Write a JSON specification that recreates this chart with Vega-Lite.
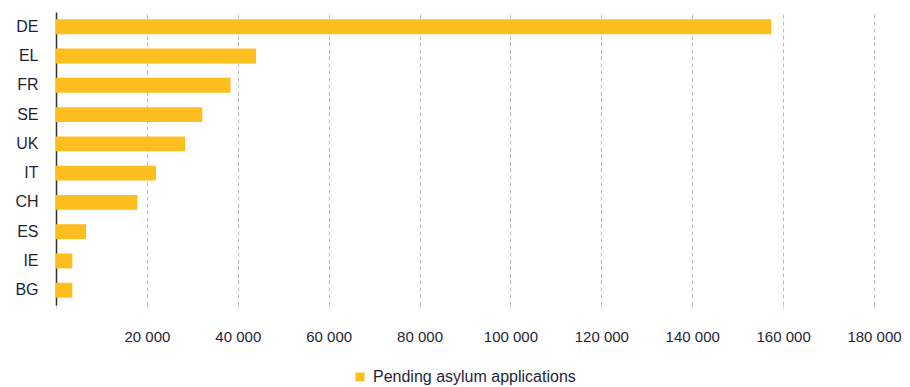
{
  "$schema": "https://vega.github.io/schema/vega-lite/v6.json",
  "autosize": {"type": "none"},
  "padding": {"left": 56, "top": 12, "right": 36, "bottom": 82},
  "width": 818,
  "height": 293,
  "background": "white",
  "config": {"view": {"stroke": null}, "font": "Liberation Sans"},
  "data": {"values": [
    {"country": "DE", "value": 157400, "series": "Pending asylum applications"},
    {"country": "EL", "value": 44000, "series": "Pending asylum applications"},
    {"country": "FR", "value": 38400, "series": "Pending asylum applications"},
    {"country": "SE", "value": 32200, "series": "Pending asylum applications"},
    {"country": "UK", "value": 28400, "series": "Pending asylum applications"},
    {"country": "IT", "value": 22000, "series": "Pending asylum applications"},
    {"country": "CH", "value": 17900, "series": "Pending asylum applications"},
    {"country": "ES", "value": 6600, "series": "Pending asylum applications"},
    {"country": "IE", "value": 3600, "series": "Pending asylum applications"},
    {"country": "BG", "value": 3600, "series": "Pending asylum applications"}
  ]},
  "mark": {"type": "bar"},
  "encoding": {
    "y": {
      "field": "country", "type": "nominal", "sort": null,
      "scale": {"paddingInner": 0.49, "paddingOuter": 0.25},
      "axis": {"title": null, "ticks": false, "domainColor": "#333333", "domainWidth": 1.5, "labelFontSize": 16, "labelColor": "#1f1f3a", "labelPadding": 18}
    },
    "x": {
      "field": "value", "type": "quantitative",
      "scale": {"domain": [0, 180000], "nice": false},
      "axis": {
        "title": null, "values": [0, 20000, 40000, 60000, 80000, 100000, 120000, 140000, 160000, 180000],
        "labelExpr": "datum.value == 0 ? '' : replace(format(datum.value, ','), ',', ' ')",
        "labelFlush": false, "labelOverlap": false,
        "domain": false, "tickColor": "#dddddd", "tickSize": 4,
        "grid": true, "gridColor": "#bbbbbb", "gridDash": [4, 3], "gridWidth": 1,
        "labelFontSize": 15, "labelColor": "#1f1f3a", "labelPadding": 20
      }
    },
    "color": {
      "field": "series", "type": "nominal",
      "scale": {"range": ["#FDBE1E"]},
      "legend": {"title": null, "orient": "none", "legendX": 296, "legendY": 357, "symbolType": "square", "symbolSize": 80, "labelFontSize": 16, "labelLimit": 400, "labelColor": "#1f1f3a", "labelOffset": 5}
    }
  }
}
